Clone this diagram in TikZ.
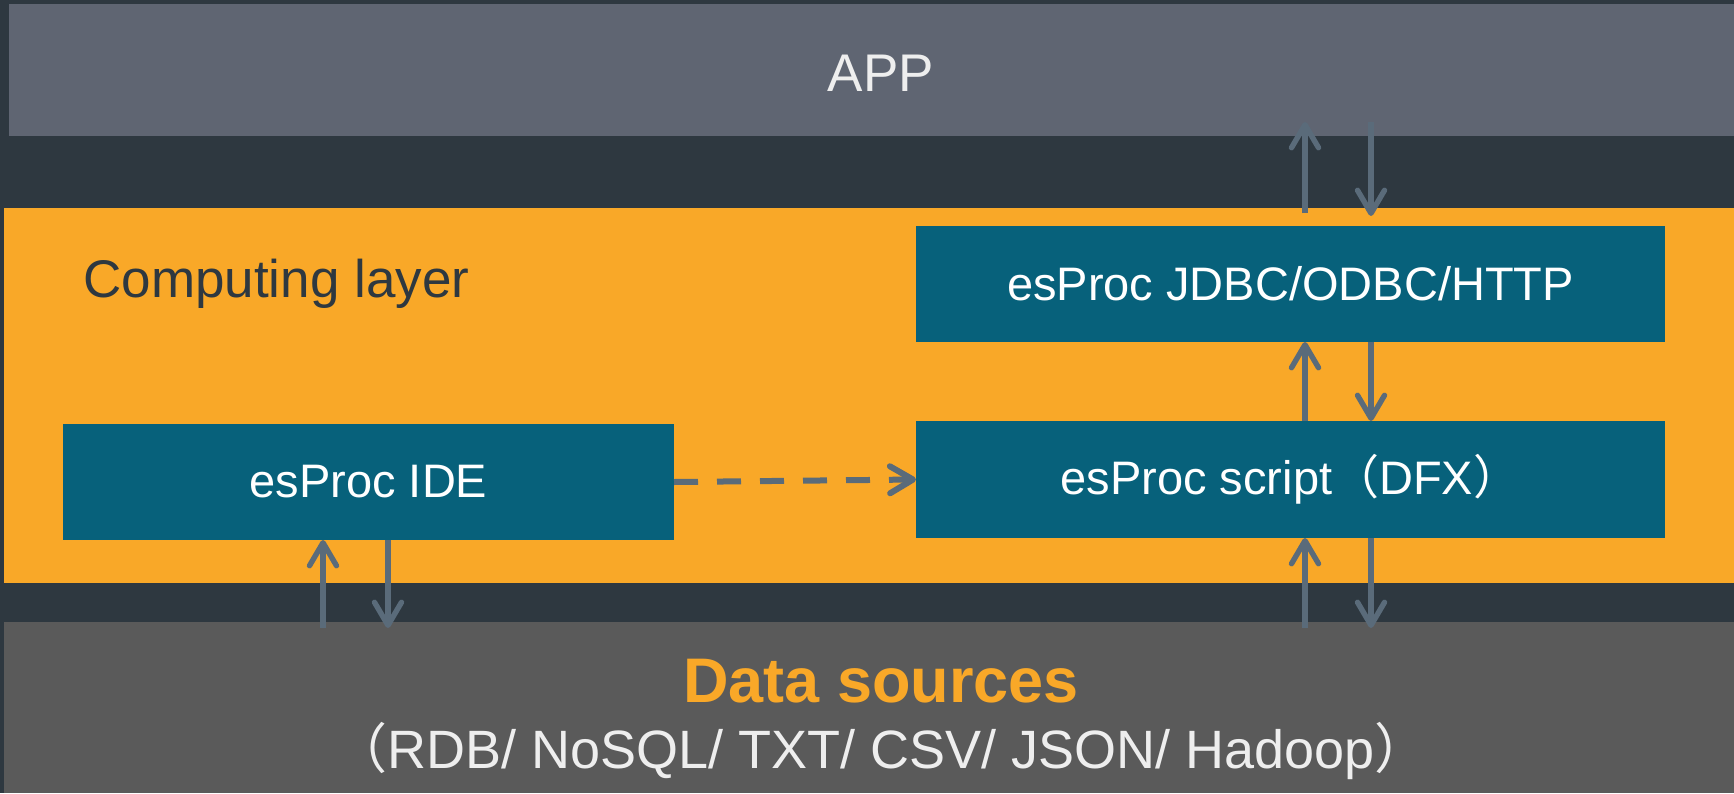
\documentclass[tikz,border=0pt]{standalone}
\usepackage{fontspec}
\setmainfont{Liberation Sans}
\newfontfamily\cjk{Noto Sans CJK SC}
\usetikzlibrary{arrows.meta,calc}
\definecolor{bgdark}{RGB}{46,56,64}
\definecolor{appgray}{RGB}{95,101,114}
\definecolor{orangeband}{RGB}{249,168,40}
\definecolor{tealbox}{RGB}{7,97,123}
\definecolor{datagray}{RGB}{90,90,90}
\definecolor{arrowgray}{RGB}{90,107,122}
\definecolor{lighttext}{RGB}{238,238,238}
\def\pxu{0.5pt}
\tikzset{
  band/.style={draw=none, inner sep=0pt, outer sep=0pt, anchor=north west},
  tealnode/.style={band, fill=tealbox, text=white, font=\fontsize{23.5}{28}\selectfont},
  arr/.style={draw=arrowgray, line width=2.7pt, -{Straight Barb[length=11.5pt,width=13.5pt,round]}},
  dasharr/.style={arr, line width=3pt, dash pattern=on 12pt off 9.5pt},
}
\begin{document}
\begin{tikzpicture}[x=0.5pt, y=-0.5pt]
\useasboundingbox (0,0) rectangle (1734,793);
\fill[bgdark] (0,0) rectangle (1734,793);
% bands
\node[band, fill=appgray, minimum width=1725*\pxu, minimum height=132*\pxu] (app) at (9,4) {};
\node[band, fill=orangeband, minimum width=1730*\pxu, minimum height=375*\pxu] (comp) at (4,208) {};
\node[band, fill=datagray, minimum width=1730*\pxu, minimum height=171*\pxu] (data) at (4,622) {};
% band texts
\node[anchor=base, inner sep=0pt, text=lighttext, font=\fontsize{26.5}{32}\selectfont] (apptext) at (881,91) {APP};
\node[anchor=base west, inner sep=0pt, text=bgdark, font=\fontsize{26.5}{32}\selectfont] (comptext) at (83,297) {Computing layer};
\node[anchor=base, inner sep=0pt, text=orangeband, font=\fontsize{31.5}{38}\selectfont\bfseries] (datatitle) at (881,702) {Data sources};
\node[anchor=base, inner sep=0pt, text=lighttext, font=\fontsize{27}{32}\selectfont] (datasub) at (881,768) {{\cjk（}RDB/ NoSQL/ TXT/ CSV/ JSON/ Hadoop{\cjk）}};
% boxes
\node[tealnode, minimum width=749*\pxu, minimum height=116*\pxu] (jdbc) at (916,226) {esProc JDBC/ODBC/HTTP};
\node[tealnode, minimum width=749*\pxu, minimum height=117*\pxu] (script) at (916,421) {esProc script{\cjk（}DFX{\cjk）}};
\node[tealnode, minimum width=611*\pxu, minimum height=116*\pxu] (ide) at (63,424) {esProc IDE};
% arrow x positions
\coordinate (xr1) at (1305,0);
\coordinate (xr2) at (1371,0);
\coordinate (xl1) at (323,0);
\coordinate (xl2) at (388,0);
% arrows
\draw[arr] ($(xr1 |- data.north)+(0,6)$) -- (xr1 |- script.south);
\draw[arr] (xr2 |- script.south) -- ($(xr2 |- data.north)+(0,6)$);
\draw[arr] (xr1 |- script.north) -- (xr1 |- jdbc.south);
\draw[arr] (xr2 |- jdbc.south) -- (xr2 |- script.north);
\draw[arr] ($(xr1 |- jdbc.north)+(0,-13)$) -- ($(xr1 |- app.south)+(0,-14)$);
\draw[arr] ($(xr2 |- app.south)+(0,-14)$) -- ($(xr2 |- jdbc.north)+(0,-10)$);
\draw[arr] ($(xl1 |- data.north)+(0,6)$) -- (xl1 |- ide.south);
\draw[arr] (xl2 |- ide.south) -- ($(xl2 |- data.north)+(0,6)$);
\draw[dasharr] (ide.east) -- (script.west);
\end{tikzpicture}
\end{document}
